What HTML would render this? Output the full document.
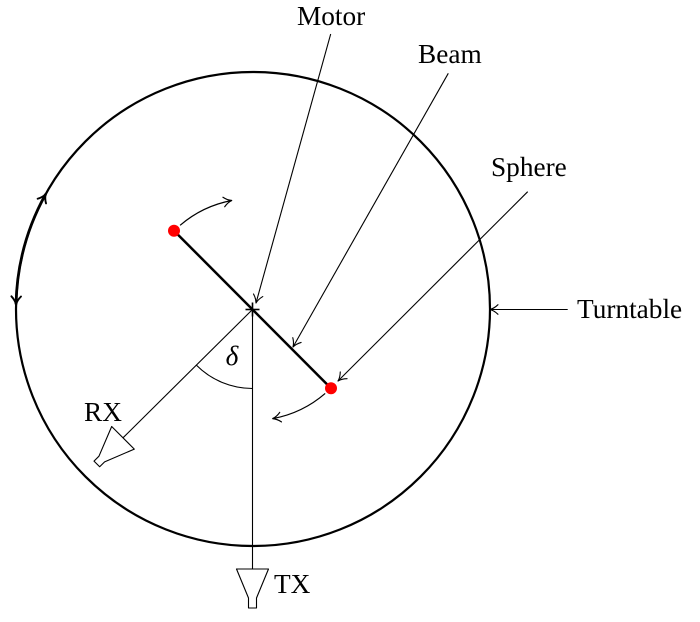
<!DOCTYPE html>
<html>
<head>
<meta charset="utf-8">
<style>
  html, body { margin: 0; padding: 0; background: #fff; }
  svg { display: block; }
  text { font-family: "Liberation Serif", "Times New Roman", serif; font-size: 27.3px; fill: #000; }
</style>
</head>
<body>
<svg width="700" height="622" viewBox="0 0 700 622" xmlns="http://www.w3.org/2000/svg">
  <defs>
    <path id="ah" d="M-8,-4.8 C-5,-1.9 -1.5,-0.4 0,0 C-1.5,0.4 -5,1.9 -8,4.8" fill="none" stroke-linecap="round" stroke-linejoin="round"/>
  </defs>

  <!-- Turntable circle -->
  <circle cx="253" cy="309" r="237" fill="none" stroke="#000" stroke-width="2.2"/>
  <!-- Left double-arrow arc on turntable -->
  <path d="M16.05,304.4 A237,237 0 0 1 45.7,194.1" fill="none" stroke="#000" stroke-width="2.8"/>
  <g stroke="#000" stroke-width="1.9">
    <use href="#ah" transform="translate(45.7,194.1) rotate(299)"/>
    <use href="#ah" transform="translate(16.05,304.4) rotate(91.1)"/>
  </g>

  <!-- TX line (vertical) -->
  <line x1="252.5" y1="309.5" x2="252.5" y2="569" stroke="#000" stroke-width="1.1"/>
  <!-- RX line -->
  <line x1="252.5" y1="309.5" x2="123" y2="437.8" stroke="#000" stroke-width="1.1"/>

  <!-- Horns -->
  <polygon points="-16,0 16,0 4,29 4,39 -4,39 -4,29" fill="#fff" stroke="#000" stroke-width="1.1" stroke-linejoin="round" transform="translate(252.5,569)"/>
  <polygon points="-16,0 16,0 4,30 4,37 -4,37 -4,30" fill="#fff" stroke="#000" stroke-width="1.1" stroke-linejoin="round" transform="translate(123,437.8) rotate(45)"/>

  <!-- delta arc -->
  <path d="M252.5,388.5 A79,79 0 0 1 196.6,365.4" fill="none" stroke="#000" stroke-width="1.1"/>
  <text x="232" y="365" text-anchor="middle" font-style="italic">δ</text>

  <!-- Beam -->
  <line x1="174" y1="230.7" x2="331" y2="388.3" stroke="#000" stroke-width="2.5"/>

  <!-- Rotation arcs -->
  <path d="M180.1,225.3 A111,111 0 0 1 231.7,200.5" fill="none" stroke="#000" stroke-width="1.2"/>
  <use href="#ah" stroke="#000" stroke-width="1.2" transform="translate(231.7,200.5) rotate(349.2)"/>
  <path d="M325.2,393.4 A111,111 0 0 1 272.7,418.6" fill="none" stroke="#000" stroke-width="1.2"/>
  <use href="#ah" stroke="#000" stroke-width="1.2" transform="translate(272.7,418.6) rotate(169.5)"/>

  <!-- Spheres -->
  <circle cx="174" cy="230.7" r="6" fill="#ff0000"/>
  <circle cx="331" cy="388.3" r="6" fill="#ff0000"/>

  <!-- Center cross -->
  <line x1="245.5" y1="309.5" x2="259.5" y2="309.5" stroke="#000" stroke-width="1.6"/>
  <line x1="252.5" y1="302.5" x2="252.5" y2="316.5" stroke="#000" stroke-width="1.6"/>

  <!-- Connectors -->
  <g stroke="#000" stroke-width="1.1" fill="none">
    <line x1="330.7" y1="34" x2="256" y2="303"/>
    <use href="#ah" transform="translate(256,303) rotate(105.5)"/>
    <line x1="448.3" y1="73.3" x2="293" y2="347"/>
    <use href="#ah" transform="translate(293,347) rotate(119.6)"/>
    <line x1="527.7" y1="191.7" x2="338" y2="381"/>
    <use href="#ah" transform="translate(338,381) rotate(135)"/>
    <line x1="567.7" y1="309.5" x2="490" y2="309.5"/>
    <use href="#ah" transform="translate(490,309.5) rotate(180)"/>
  </g>

  <!-- Labels -->
  <text x="297" y="25">Motor</text>
  <text x="418" y="63">Beam</text>
  <text x="491" y="176">Sphere</text>
  <text x="577" y="318">Turntable</text>
  <text x="84" y="421">RX</text>
  <text x="274" y="593">TX</text>
</svg>
</body>
</html>
